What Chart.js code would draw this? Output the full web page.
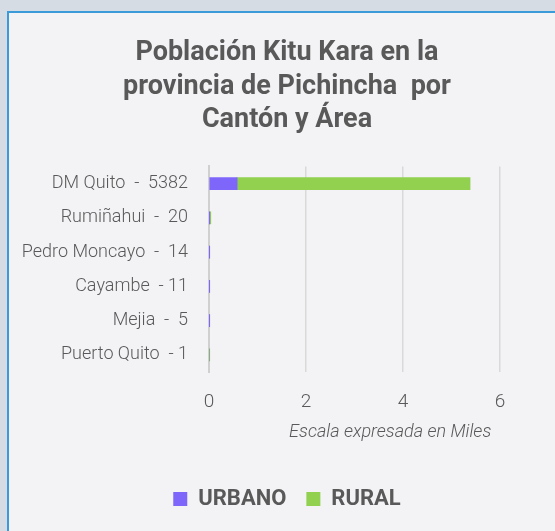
<!DOCTYPE html>
<html>
<head>
<meta charset="utf-8">
<script src="https://cdn.jsdelivr.net/npm/chart.js@4"></script>
<style>
  html, body { margin: 0; padding: 0; }
  body { width: 555px; height: 531px; background: #d6dce4; position: relative; overflow: hidden; }
  #panel { position: absolute; left: 7px; top: 11px; right: 0; bottom: 0; background: #f3f3f6;
           border-top: 2px solid #3b9bd8; border-left: 2px solid #3b9bd8; }
  #wrap { position: absolute; left: 0; top: 0; width: 555px; height: 531px; }
</style>
</head>
<body>
<div id="panel"></div>
<div id="wrap"><canvas id="chart" width="555" height="531"></canvas></div>
<script>
const cantones = ['DM Quito  -  5382', 'Rumiñahui  -  20', 'Pedro Moncayo  -  14', 'Cayambe  - 11', 'Mejia  -  5', 'Puerto Quito  - 1'];
const urbano = [0.58, 0.002, 0.002, 0.006, 0.003, 0];
const rural = [4.80, 0.035, 0.012, 0.005, 0.002, 0.001];
const xTicks = [0, 2, 4, 6];
const xMax = 7.11; // axis runs past the last tick, as in the original

const GREY = '#595959';

new Chart(document.getElementById('chart'), {
  type: 'bar',
  data: {
    labels: cantones,
    datasets: [
      { label: 'URBANO', data: urbano, backgroundColor: '#7f66fb', barThickness: 12 },
      { label: 'RURAL', data: rural, backgroundColor: '#92d050', barThickness: 12 },
    ],
  },
  options: {
    indexAxis: 'y',
    responsive: false,
    animation: false,
    layout: { padding: { left: 20, right: 1, top: 37, bottom: 11 } },
    plugins: {
      title: {
        display: true,
        text: ['Población Kitu Kara en la', 'provincia de Pichincha  por', 'Cantón y Área'],
        color: GREY,
        font: { family: 'Roboto', size: 27, weight: 'bold', lineHeight: 1.24 },
        padding: { top: 0, bottom: 29 },
      },
      legend: {
        position: 'bottom',
        labels: {
          color: GREY,
          boxWidth: 14, boxHeight: 14,
          padding: 20,
          font: { family: 'Roboto', size: 22, weight: 'bold' },
        },
      },
      tooltip: { enabled: false },
    },
    scales: {
      x: {
        stacked: true,
        min: 0, max: xMax,
        afterBuildTicks: s => { s.ticks = xTicks.map(v => ({ value: v })); },
        afterFit: s => { s.height = 96; },
        grid: { color: '#d9d9d9', lineWidth: 1.5, drawTicks: false },
        border: { display: false },
        ticks: { color: GREY, padding: 19, font: { family: 'Roboto', size: 19, weight: 300 } },
        title: {
          display: true, text: '\u00a0\u00a0\u00a0\u00a0Escala expresada en Miles', align: 'center', color: GREY,
          font: { family: 'Roboto', size: 18, style: 'italic', weight: 300 },
          padding: { top: 0, bottom: 25 },
        },
      },
      y: {
        stacked: true,
        afterFit: s => { s.width = 189; },
        grid: { display: false, drawTicks: false },
        border: { color: '#d0d0d0', width: 2 },
        ticks: { color: GREY, padding: 21, font: { family: 'Roboto', size: 18, weight: 300 } },
      },
    },
  },
});
</script>
</body>
</html>
